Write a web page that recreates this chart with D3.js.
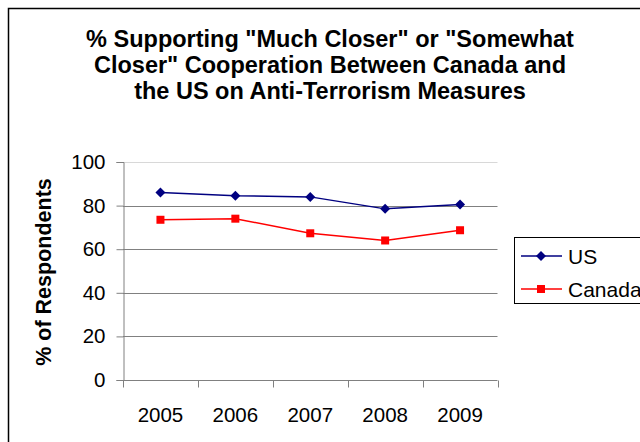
<!DOCTYPE html>
<html>
<head>
<meta charset="utf-8">
<script src="https://cdn.jsdelivr.net/npm/d3@7"></script>
<style>
  html, body { margin: 0; padding: 0; background: #fff; }
  svg { display: block; font-family: Arial, "Liberation Sans", sans-serif; }
</style>
</head>
<body>
<svg id="chart" width="640" height="442"></svg>
<script>
// Survey years and support levels (%)
const years = ["2005", "2006", "2007", "2008", "2009"];
const usValues = [86, 84.5, 84, 78.5, 80.5];
const canadaValues = [73.5, 74, 67.3, 64, 68.7];
const yTicks = [0, 20, 40, 60, 80, 100];
const titleLines = [
  '% Supporting "Much Closer" or "Somewhat',
  'Closer" Cooperation Between Canada and',
  'the US on Anti-Terrorism Measures'
];
const seriesNames = ["US", "Canada"];

const series = [
  { name: seriesNames[0], values: usValues, color: "#000080", marker: "diamond" },
  { name: seriesNames[1], values: canadaValues, color: "#ff0000", marker: "square" }
];

const svg = d3.select("#chart");

// Outer chart frame
svg.append("rect")
  .attr("x", 8.5).attr("y", 8.5)
  .attr("width", 700).attr("height", 500)
  .attr("fill", "#fff").attr("stroke", "#000").attr("stroke-width", 1.5);

// Title
const title = svg.append("text")
  .attr("text-anchor", "middle")
  .attr("font-weight", "bold")
  .attr("font-size", 23.5)
  .attr("fill", "#000");
titleLines.forEach((line, i) => {
  title.append("tspan").attr("x", 330).attr("y", 47 + i * 26).text(line);
});

const plot = { left: 123, right: 497.5, top: 162, bottom: 380 };

const x = d3.scaleBand().domain(years).range([plot.left, plot.right]);
const y = d3.scaleLinear().domain([0, 100]).range([plot.bottom, plot.top]);

// Horizontal gridlines
svg.append("g")
  .selectAll("line")
  .data(yTicks.filter(d => d > 0))
  .join("line")
  .attr("x1", plot.left).attr("x2", plot.right)
  .attr("y1", d => Math.round(y(d)) + 0.5).attr("y2", d => Math.round(y(d)) + 0.5)
  .attr("stroke", d => d === 100 ? "#d8d8d8" : "#808080")
  .attr("stroke-width", 1);

// Y axis
const yAxis = svg.append("g")
  .attr("transform", `translate(${plot.left + 0.5},0)`)
  .call(d3.axisLeft(y).tickValues(yTicks).tickSize(7).tickPadding(11).tickFormat(d3.format("d")));
yAxis.select(".domain").attr("stroke", "#808080");
yAxis.selectAll(".tick line").attr("stroke", "#808080");
yAxis.selectAll(".tick text")
  .attr("font-size", 20.5).attr("fill", "#000")
  .attr("font-family", "Arial, 'Liberation Sans', sans-serif");

// X axis with tick marks at category boundaries
const xAxisG = svg.append("g").attr("transform", `translate(0,${plot.bottom + 0.5})`);
xAxisG.append("line")
  .attr("x1", plot.left).attr("x2", plot.right)
  .attr("stroke", "#808080");
const boundaries = years.map(d => x(d)).concat([x(years[years.length - 1]) + x.bandwidth()]);
xAxisG.selectAll("line.tick")
  .data(boundaries)
  .join("line")
  .attr("class", "tick")
  .attr("x1", d => Math.round(d) + 0.5).attr("x2", d => Math.round(d) + 0.5)
  .attr("y1", 0).attr("y2", 7)
  .attr("stroke", "#808080");
xAxisG.selectAll("text")
  .data(years)
  .join("text")
  .attr("x", d => x(d) + x.bandwidth() / 2)
  .attr("y", 41.5)
  .attr("text-anchor", "middle")
  .attr("font-size", 20.5)
  .attr("fill", "#000")
  .text(d => d);

// Y axis title
svg.append("text")
  .attr("transform", `translate(51,272) rotate(-90)`)
  .attr("text-anchor", "middle")
  .attr("font-weight", "bold")
  .attr("font-size", 21.5)
  .attr("fill", "#000")
  .text("% of Respondents");

const cx = d => x(d) + x.bandwidth() / 2;
const line = d3.line().x((v, i) => cx(years[i])).y(v => y(v));

function drawMarker(g, type, color) {
  if (type === "diamond") {
    g.append("path").attr("d", "M0,-5L5,0L0,5L-5,0Z").attr("fill", color);
  } else {
    g.append("rect").attr("x", -4).attr("y", -4).attr("width", 8).attr("height", 8).attr("fill", color);
  }
}

series.forEach(s => {
  svg.append("path")
    .datum(s.values)
    .attr("d", line)
    .attr("fill", "none")
    .attr("stroke", s.color)
    .attr("stroke-width", 1.5);
  s.values.forEach((v, i) => {
    const g = svg.append("g").attr("transform", `translate(${cx(years[i])},${y(v)})`);
    drawMarker(g, s.marker, s.color);
  });
});

// Legend (the box runs past the right edge of the frame)
const legend = svg.append("g");
legend.append("rect")
  .attr("x", 514.5).attr("y", 237.5)
  .attr("width", 200).attr("height", 66)
  .attr("fill", "#fff").attr("stroke", "#000").attr("stroke-width", 1);
series.forEach((s, i) => {
  const ly = 256 + i * 33;
  legend.append("line")
    .attr("x1", 521).attr("x2", 562)
    .attr("y1", ly).attr("y2", ly)
    .attr("stroke", s.color).attr("stroke-width", 1.5);
  const g = legend.append("g").attr("transform", `translate(541,${ly})`);
  drawMarker(g, s.marker, s.color);
  legend.append("text")
    .attr("x", 568).attr("y", ly + 7.5)
    .attr("font-size", 21).attr("fill", "#000")
    .text(s.name);
});
</script>
</body>
</html>
